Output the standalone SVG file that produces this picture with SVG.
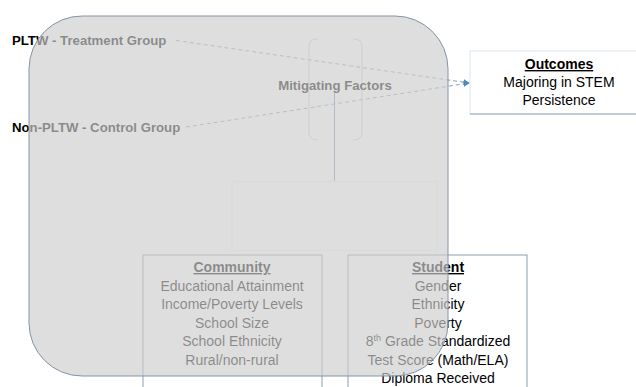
<svg xmlns="http://www.w3.org/2000/svg" width="636" height="387" viewBox="0 0 636 387">
<defs>
<style>
.t{font-family:"Liberation Sans",Arial,sans-serif;font-size:14px;fill:#000;text-anchor:middle}
.b{font-weight:bold}
.u{text-decoration:underline}
.lbl{font-family:"Liberation Sans",Arial,sans-serif;font-size:13.2px;font-weight:bold;fill:#000}
.box{fill:#fff;stroke:#8a9db2;stroke-width:1}
.dash{fill:none;stroke:#7ea3c9;stroke-width:1;stroke-dasharray:4 3}
.conn{fill:none;stroke:#7c8ea3;stroke-width:1}
</style>
<marker id="arr" viewBox="0 0 10 10" refX="9" refY="5" markerWidth="6" markerHeight="6" orient="auto" markerUnits="userSpaceOnUse">
<path d="M0,0 L10,5 L0,10 z" fill="#4f87c0"/>
</marker>
</defs>
<rect width="636" height="387" fill="#fff"/>

<g id="outcomes">
<rect x="470" y="51" width="170" height="63" fill="#fff" stroke="#dce6ef"/>
<line x1="470" y1="114" x2="636" y2="114" stroke="#8fa3b8"/>
<text class="t b u" x="559" y="69">Outcomes</text>
<text class="t" x="559" y="87">Majoring in STEM</text>
<text class="t" x="559" y="105">Persistence</text>
</g>

<g id="community">
<rect class="box" x="143" y="255" width="179" height="140"/>
<text class="t b u" x="232" y="272">Community</text>
<text class="t" x="232" y="290.5">Educational Attainment</text>
<text class="t" x="232" y="309">Income/Poverty Levels</text>
<text class="t" x="232" y="327.5">School Size</text>
<text class="t" x="232" y="346">School Ethnicity</text>
<text class="t" x="232" y="364.5">Rural/non-rural</text>
</g>

<g id="student">
<rect class="box" x="348" y="255" width="179" height="140"/>
<text class="t b u" x="438" y="272">Student</text>
<text class="t" x="438" y="290.5">Gender</text>
<text class="t" x="438" y="309">Ethnicity</text>
<text class="t" x="438" y="327.5">Poverty</text>
<text class="t" x="438" y="346">8<tspan font-size="9" dy="-5">th</tspan><tspan dy="5"> Grade Standardized</tspan></text>
<text class="t" x="438" y="364.5">Test Score (Math/ELA)</text>
<text class="t" x="438" y="383">Diploma Received</text>
</g>

<g id="connectors">
<line class="dash" x1="176" y1="40.5" x2="469" y2="83" marker-end="url(#arr)"/>
<line class="dash" x1="186" y1="127" x2="469" y2="83" marker-end="url(#arr)"/>
<path class="conn" d="M334.5,93 V181.5 H232"/>
<rect x="232" y="181.5" width="205" height="69" fill="none" stroke="#f2f2f2" stroke-width="1.5"/>
</g>

<g id="mitigating">
<path d="M318,39 H317 Q309,39 309,47 V132 Q309,140 317,140 H318 M353,39 H354 Q362,39 362,47 V132 Q362,140 354,140 H353" fill="none" stroke="#cfcfcf" stroke-width="1"/>
<text class="lbl" x="335" y="90" text-anchor="middle">Mitigating Factors</text>
</g>

<g id="pltw">
<text class="lbl" x="12" y="45">PLTW - Treatment Group</text>
</g>
<g id="nonpltw">
<text class="lbl" x="12" y="132">Non-PLTW - Control Group</text>
</g>

<g id="overlay">
<rect x="29" y="16" width="419" height="360" rx="53" ry="53" fill="#cecece" fill-opacity="0.67" stroke="#8494a6" stroke-width="1"/>
</g>
</svg>
